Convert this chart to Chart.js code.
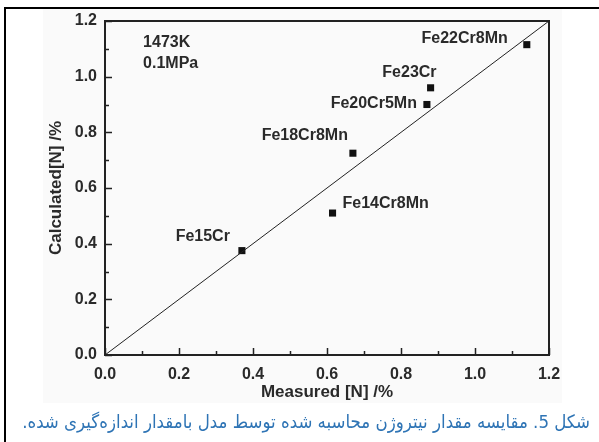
<!DOCTYPE html>
<html><head><meta charset="utf-8">
<script src="https://cdn.jsdelivr.net/npm/chart.js@4"></script>
<style>
html,body{margin:0;padding:0;background:#fff;}
#wrap{position:relative;width:599px;height:442px;overflow:hidden;}
canvas{position:absolute;left:0;top:0;}
#cap{position:absolute;right:9px;top:408px;direction:rtl;font-family:"DejaVu Sans Condensed","DejaVu Sans",sans-serif;color:#2e74b5;white-space:nowrap;font-size:17px;line-height:28px;}
</style></head><body>
<div id="wrap"><canvas id="c" width="599" height="442"></canvas><div id="cap">شکل 5. مقایسه مقدار نیتروژن محاسبه شده توسط مدل بامقدار اندازه‌گیری شده.</div></div>
<script>
// ---- data ----
const alloys = ['Fe15Cr','Fe14Cr8Mn','Fe18Cr8Mn','Fe20Cr5Mn','Fe23Cr','Fe22Cr8Mn'];
const measured = [0.37, 0.615, 0.67, 0.87, 0.88, 1.14];
const calculated = [0.375, 0.51, 0.725, 0.90, 0.96, 1.115];
const diagonalX = [0, 1.2];
const diagonalY = [0, 1.2];
const conditions = ['1473K', '0.1MPa'];
const xTitle = 'Measured [N] /%';
const yTitle = 'Calculated[N] /%';
const axisMin = 0, axisMax = 1.2, majorStep = 0.2, minorStep = 0.1;

// ---- layout (positions/styles, not data) ----
const labelLayout = [
  {align:'right', dx:-12, dy:-14},
  {align:'left',  dx:10,  dy:-9},
  {align:'right', dx:-5,  dy:-18},
  {align:'right', dx:-10, dy:-1},
  {align:'right', dx:6,   dy:-15},
  {align:'right', dx:-19, dy:-6}
];
const condLayout = {x:0.103, y:1.121, lineGap:21};
const INK = '#222';
const TXT = '#2a2a2a';
const BOLD = (s)=>({family:'"Liberation Sans", Arial, sans-serif', size:s, weight:'bold'});
const MAJOR_LEN = 7, MINOR_LEN = 4;

const fmt = v => Number(v).toFixed(1);

const framePlugin = {
  id:'frame',
  beforeDraw(chart){
    const c = chart.ctx;
    c.save();
    c.fillStyle = '#fff';
    c.fillRect(0,0,chart.width,chart.height);
    c.fillStyle = '#fafafa';
    c.fillRect(43,9,519,394);
    c.strokeStyle = '#000';
    c.lineWidth = 2;
    c.beginPath();
    c.moveTo(4,8); c.lineTo(599,8);
    c.moveTo(5,8); c.lineTo(5,442);
    c.stroke();
    c.restore();
  },
  afterDatasetsDraw(chart){
    const c = chart.ctx, a = chart.chartArea;
    c.save();
    // inward tick marks taken from the scales' own ticks
    c.strokeStyle = INK; c.lineWidth = 1.5;
    c.beginPath();
    [['x',MAJOR_LEN],['xm',MINOR_LEN]].forEach(([id,len])=>{
      const s = chart.scales[id];
      s.ticks.forEach(t=>{
        const px = Math.round(s.getPixelForValue(t.value))+0.5;
        c.moveTo(px, a.bottom); c.lineTo(px, a.bottom - len);
      });
    });
    [['y',MAJOR_LEN],['ym',MINOR_LEN]].forEach(([id,len])=>{
      const s = chart.scales[id];
      s.ticks.forEach(t=>{
        const py = Math.round(s.getPixelForValue(t.value))+0.5;
        c.moveTo(a.left, py); c.lineTo(a.left + len, py);
      });
    });
    c.stroke();
    // plot frame
    c.lineWidth = 2;
    c.strokeRect(a.left, a.top, a.right-a.left, a.bottom-a.top);
    // point labels
    const meta = chart.getDatasetMeta(1);
    c.fillStyle = TXT;
    c.font = 'bold 16px "Liberation Sans", Arial, sans-serif';
    c.textBaseline = 'middle';
    meta.data.forEach((el,i)=>{
      const L = labelLayout[i];
      c.textAlign = L.align;
      c.fillText(alloys[i], el.x + L.dx, el.y + L.dy);
    });
    // conditions
    const xs = chart.scales.x, ys = chart.scales.y;
    c.textAlign = 'left';
    conditions.forEach((t,i)=>{
      c.fillText(t, xs.getPixelForValue(condLayout.x), ys.getPixelForValue(condLayout.y) + i*condLayout.lineGap);
    });
    c.restore();
  }
};

new Chart(document.getElementById('c'), {
  data:{
    datasets:[
      {type:'line', data: diagonalX.map((x,i)=>({x, y:diagonalY[i]})), borderColor:INK, borderWidth:1, pointRadius:0, fill:false},
      {type:'scatter', data: measured.map((x,i)=>({x, y:calculated[i]})), pointStyle:'rect', pointRadius:5, backgroundColor:'#111', borderWidth:0}
    ]
  },
  options:{
    responsive:false, animation:false,
    layout:{padding:{left:0, top:21, right:50, bottom:0}},
    plugins:{legend:{display:false}, tooltip:{enabled:false}},
    scales:{
      x:{type:'linear', position:'bottom', weight:1, min:axisMin, max:axisMax,
         ticks:{stepSize:majorStep, callback:fmt, font:BOLD(16), color:TXT, padding:10, maxRotation:0},
         grid:{drawOnChartArea:false, drawTicks:false},
         border:{color:INK, width:2},
         title:{display:true, text:xTitle, font:BOLD(17), color:TXT, padding:{top:0,bottom:39}},
         afterFit(s){ s.height = 87; }},
      xm:{type:'linear', position:'bottom', weight:0, min:axisMin, max:axisMax,
         ticks:{stepSize:minorStep, display:false},
         grid:{display:false}, border:{display:false},
         afterFit(s){ s.height = 0; }},
      y:{type:'linear', position:'left', weight:1, min:axisMin, max:axisMax,
         ticks:{stepSize:majorStep, callback:fmt, font:BOLD(16), color:TXT, padding:8},
         grid:{drawOnChartArea:false, drawTicks:false},
         border:{color:INK, width:2},
         title:{display:true, text:yTitle, font:BOLD(17), color:TXT, padding:{top:46,bottom:0}},
         afterFit(s){ s.width = 105; }},
      ym:{type:'linear', position:'left', weight:0, min:axisMin, max:axisMax,
         ticks:{stepSize:minorStep, display:false},
         grid:{display:false}, border:{display:false},
         afterFit(s){ s.width = 0; }}
    }
  },
  plugins:[framePlugin]
});

// fit caption width to reference span (~22..590)
(function(){
  const cap = document.getElementById('cap');
  let fs = 17;
  for(let k=0;k<20;k++){
    const w = cap.getBoundingClientRect().width;
    if (Math.abs(w-568)<1) break;
    fs = fs * 568 / w;
    cap.style.fontSize = fs + 'px';
  }
})();
</script>
</body></html>
